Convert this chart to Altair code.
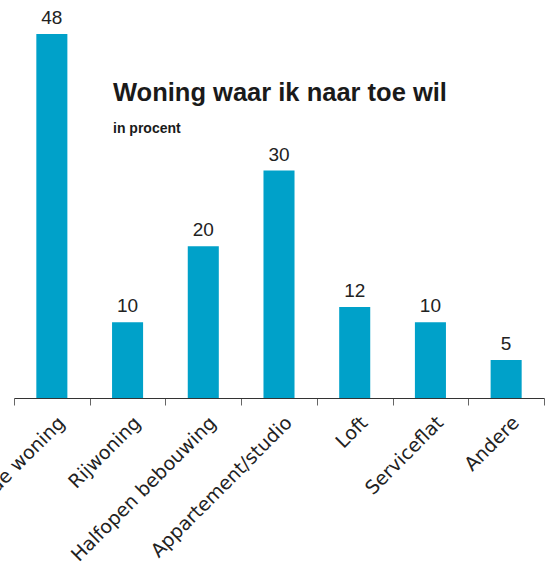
import altair as alt
import pandas as pd

categories = ["Vrijstaande woning", "Rijwoning", "Halfopen bebouwing",
              "Appartement/studio", "Loft", "Serviceflat", "Andere"]
values = [48, 10, 20, 30, 12, 10, 5]

df = pd.DataFrame({"cat": categories, "val": values})

x = alt.X("cat:N", sort=categories, title=None,
          scale=alt.Scale(paddingInner=0, paddingOuter=0),
          axis=alt.Axis(labelAngle=-45, tickBand="extent", labelFont="DejaVu Sans",
                        labelFontSize=19, labelColor="#222222", labelPadding=8,
                        labelOffset=3,
                        tickSize=7, tickColor="#666666", domainColor="#333333",
                        domainWidth=1.2, labelOverlap=False, labelLimit=400))
y = alt.Y("val:Q", title=None, scale=alt.Scale(domain=[0, 48], nice=False, zero=True),
          axis=None)

bars = alt.Chart(df).mark_bar(color="#00A1C9",
                              width=alt.RelativeBandSize(0.41)).encode(x=x, y=y)
labels = alt.Chart(df).mark_text(baseline="bottom", dy=-6, font="Liberation Sans",
                                 fontSize=19, color="#222222").encode(
    x=alt.X("cat:N", sort=categories), y="val:Q", text="val:Q")

chart = alt.layer(bars, labels).properties(
    width=530, height=364,
    autosize=alt.AutoSizeParams(type="none"),
    padding={"left": 14, "top": 34, "right": 4, "bottom": 168},
    title=alt.TitleParams(
        text="Woning waar ik naar toe wil",
        subtitle="in procent",
        anchor="start", frame="group", dx=99, dy=131,
        font="Liberation Sans", fontSize=25.5, fontWeight="bold", color="#1a1a1a",
        subtitleFont="Liberation Sans", subtitleFontSize=14, subtitleFontWeight="bold",
        subtitleColor="#1a1a1a", subtitlePadding=16),
).configure_view(stroke=None)

chart.save("out.html", embed_options={"renderer": "svg", "actions": False})
